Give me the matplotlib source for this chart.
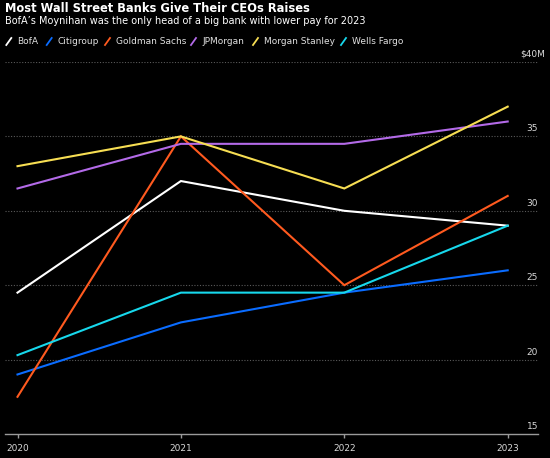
import matplotlib
matplotlib.use("Agg")
import matplotlib.pyplot as plt
from matplotlib.lines import Line2D

years = [2020, 2021, 2022, 2023]
banks = ["BofA", "Citigroup", "Goldman Sachs", "JPMorgan", "Morgan Stanley", "Wells Fargo"]
bofa = [24.5, 32.0, 30.0, 29.0]
citigroup = [19.0, 22.5, 24.5, 26.0]
goldman = [17.5, 35.0, 25.0, 31.0]
jpmorgan = [31.5, 34.5, 34.5, 36.0]
morgan_stanley = [33.0, 35.0, 31.5, 37.0]
wells_fargo = [20.3, 24.5, 24.5, 29.0]
series = [bofa, citigroup, goldman, jpmorgan, morgan_stanley, wells_fargo]
colors = ["#ffffff", "#0a6cff", "#ff5a1f", "#b36ae8", "#f7de53", "#17d8ec"]
yticks = [15, 20, 25, 30, 35, 40]
ytick_labels = ["15", "20", "25", "30", "35", "$40M"]

W, H = 550, 458
fig = plt.figure(figsize=(W / 100, H / 100), dpi=100, facecolor="black")

ax_left, ax_right, ax_top, ax_bottom = 5, 538, 62, 434
ax = fig.add_axes([ax_left / W, 1 - ax_bottom / H, (ax_right - ax_left) / W, (ax_bottom - ax_top) / H])
ax.set_facecolor("black")

for vals, c in zip(series, colors):
    ax.plot(years, vals, color=c, lw=1.5, solid_joinstyle="miter", zorder=3)

ppy = (507.7 - 17.5) / 3.0
ax.set_xlim(2020 - (17.5 - ax_left) / ppy, 2023 + (ax_right - 507.7) / ppy)
ax.set_ylim(15, 40)

for s in ["top", "right", "left"]:
    ax.spines[s].set_visible(False)
ax.spines["bottom"].set_color("#9a9a9a")
ax.spines["bottom"].set_linewidth(1.0)

ax.set_yticks([])
ax.set_xticks(years)
ax.set_xticklabels([str(y) for y in years], color="#d8d8d8", fontsize=6.5)
ax.tick_params(axis="x", colors="#9a9a9a", length=3, width=1, pad=4, labelcolor="#d8d8d8")

for v, lab in zip(yticks, ytick_labels):
    if v > 15:
        ax.axhline(v, color="#5a5a5a", lw=0.8, ls=(0, (1, 1.5)), zorder=1)
    ax.annotate(lab, xy=(1, v), xycoords=("axes fraction", "data"),
                xytext=(7 if lab.startswith("$") else 0, 3), textcoords="offset pixels",
                ha="right", va="bottom", color="#d8d8d8", fontsize=6.5)

fig.text(5 / W, 1 - 8 / H, "Most Wall Street Banks Give Their CEOs Raises",
         color="white", fontsize=8.3, fontweight="bold", ha="left", va="center")
fig.text(5 / W, 1 - 21 / H, "BofA\u2019s Moynihan was the only head of a big bank with lower pay for 2023",
         color="white", fontsize=7, ha="left", va="center")

handle_x = [6.3, 46.7, 105, 191, 253, 341]
ly = 41.5
for name, c, hx in zip(banks, colors, handle_x):
    fig.add_artist(Line2D([hx / W, (hx + 5) / W], [1 - (ly + 3.5) / H, 1 - (ly - 3.5) / H],
                          transform=fig.transFigure, color=c, lw=1.3))
    fig.text((hx + 11) / W, 1 - ly / H, name, color="#e0e0e0", fontsize=6.5, ha="left", va="center")

fig.savefig("out.png", dpi=100, facecolor="black")
